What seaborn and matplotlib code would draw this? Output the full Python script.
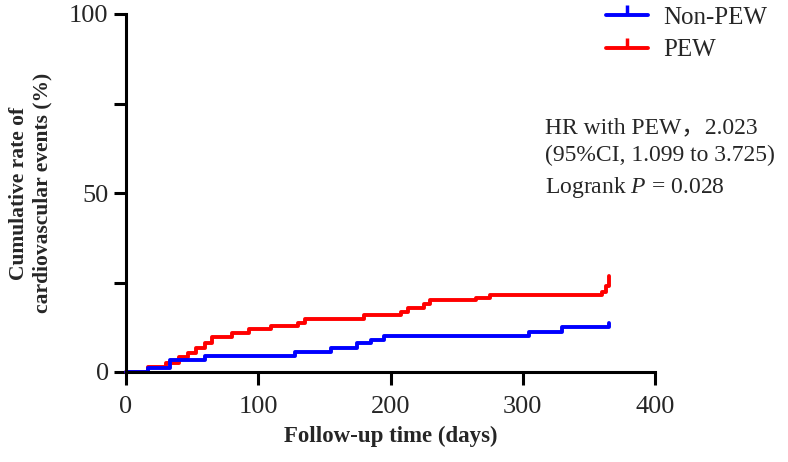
import numpy as np
import pandas as pd
import matplotlib
matplotlib.use("Agg")
import matplotlib.pyplot as plt
from matplotlib.lines import Line2D
from matplotlib.ticker import MultipleLocator
import seaborn as sns

# Step curves (days, cumulative %)
non_pew_days = [0, 17, 33, 60, 128, 155, 175, 185, 195, 305, 330, 365]
non_pew_rate = [0, 1.0, 3.4, 4.5, 5.6, 6.7, 8.0, 8.9, 10.1, 11.2, 12.5, 13.6]

pew_days = [0, 17, 30, 40, 47, 53, 60, 65, 80, 93, 110, 130, 135, 180, 208,
            213, 225, 230, 265, 275, 360, 363, 365]
pew_rate = [0, 1.4, 2.5, 4.2, 5.3, 6.7, 8.0, 9.8, 10.9, 12.0, 12.8, 13.7, 14.8,
            15.9, 16.8, 17.9, 19.0, 20.0, 20.7, 21.5, 22.3, 24.0, 26.8]

groups = ["Non-PEW", "PEW"]
colors = {"Non-PEW": "#0000FF", "PEW": "#FF0000"}

df = pd.concat([
    pd.DataFrame({"days": pew_days, "rate": pew_rate, "group": "PEW"}),
    pd.DataFrame({"days": non_pew_days, "rate": non_pew_rate, "group": "Non-PEW"}),
])

sns.set_style("ticks")
plt.rcParams['font.family'] = ['Liberation Serif', 'Noto Sans CJK SC']
plt.rcParams['mathtext.fontset'] = 'custom'
plt.rcParams['mathtext.it'] = 'Liberation Serif:italic'
plt.rcParams['mathtext.rm'] = 'Liberation Serif'

fig = plt.figure(figsize=(7.88, 4.62), dpi=100)
ax = fig.add_axes([126 / 788, 1 - 372 / 462, 529 / 788, 358 / 462])

sns.lineplot(data=df, x="days", y="rate", hue="group", palette=colors,
             hue_order=["PEW", "Non-PEW"], estimator=None, sort=True,
             drawstyle="steps-post", linewidth=2.8, ax=ax, legend=False)
for ln in ax.get_lines():
    ln.set_clip_on(False)

ax.set_xlim(0, 400)
ax.set_ylim(0, 100)
ax.set_xticks([0, 100, 200, 300, 400])
ax.set_yticks([0, 50, 100])
ax.yaxis.set_minor_locator(MultipleLocator(25))
ax.tick_params(axis="both", which="both", direction="out", length=9, width=2.2,
               labelsize=19, color="black")
ax.tick_params(axis="x", pad=8)
for side in ["top", "right"]:
    ax.spines[side].set_visible(False)
for side in ["left", "bottom"]:
    ax.spines[side].set_linewidth(2.2)
    ax.spines[side].set_color("black")

ax.set_xlabel("Follow-up time (days)", fontsize=16.5, fontweight="bold", labelpad=6)
ax.set_ylabel("Cumulative rate of\ncardiovascular events (%)", fontsize=15.5,
              fontweight="bold", labelpad=12)

handles = [Line2D([], [], color=colors[g], linewidth=2.8, marker=2,
                  markersize=7, markeredgewidth=2.5) for g in groups]
fig.legend(handles, groups, loc="upper left", bbox_to_anchor=(583 / 788, 1.035),
           frameon=False, prop={"family": ["Liberation Serif"], "size": 18},
           handlelength=1.7, handletextpad=0.6, labelspacing=0.4)

fig.text(545 / 788, 1 - 117 / 462,
         "HR with PEW，2.023\n(95%CI, 1.099 to 3.725)\nLogrank $P$ = 0.028",
         fontsize=17, ha="left", va="top", linespacing=1.45)

fig.savefig("out.png", dpi=100)
